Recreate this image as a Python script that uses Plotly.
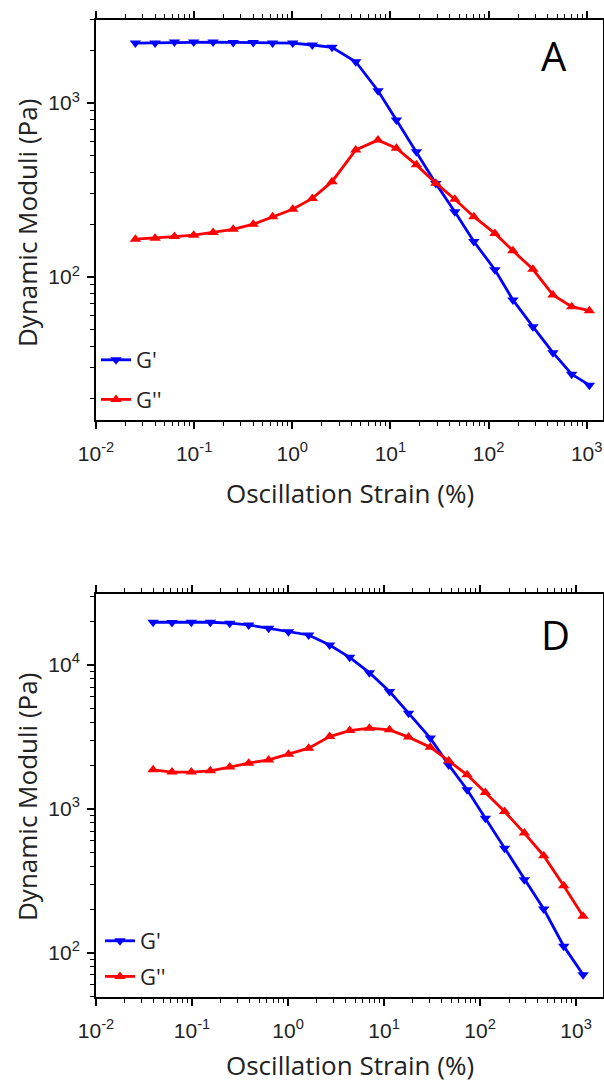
import plotly.graph_objects as go

# ---------------- Data: panel A ----------------
strain_A = [0.0252, 0.040, 0.063, 0.099, 0.156, 0.25, 0.40, 0.63, 1.01, 1.6, 2.54, 4.43,
            7.47, 11.5, 18.4, 29.0, 45.3, 70.8, 116, 177, 283, 453, 703, 1064]
Gp_A = [2210, 2215, 2240, 2240, 2240, 2230, 2225, 2210, 2210, 2154, 2090, 1727,
        1177, 798, 525, 345, 237, 160, 110, 73.8, 51.8, 36.7, 27.6, 23.9]
Gpp_A = [165, 167, 170.6, 174, 180, 188, 201, 222, 245, 283, 353, 537,
         612, 550, 441, 346, 280, 222, 178, 141.6, 110.7, 78.9, 67.5, 64]

# ---------------- Data: panel D ----------------
strain_D = [0.0393, 0.0619, 0.0984, 0.155, 0.247, 0.389, 0.628, 1.01, 1.64, 2.71, 4.38,
            7.03, 11.4, 18.0, 30.3, 47.1, 73.3, 113.5, 180, 289, 460, 743, 1183]
Gp_D = [19800, 19700, 19800, 19800, 19500, 18960, 17990, 17020, 16150, 13770, 11300,
        8840, 6530, 4620, 3100, 2020, 1357, 861, 533, 321, 201, 111, 70.3]
Gpp_D = [1866, 1799, 1799, 1836, 1950, 2077, 2188, 2397, 2641, 3178, 3497,
         3632, 3538, 3150, 2681, 2154, 1722, 1298, 957, 678, 472, 292, 179]

x_tickvals = [0.01, 0.1, 1, 10, 100, 1000]
x_ticktext = ["10<sup>-2</sup>", "10<sup>-1</sup>", "10<sup>0</sup>",
              "10<sup>1</sup>", "10<sup>2</sup>", "10<sup>3</sup>"]
yA_tickvals = [100, 1000]
yA_ticktext = ["10<sup>2</sup>", "10<sup>3</sup>"]
yD_tickvals = [100, 1000, 10000]
yD_ticktext = ["10<sup>2</sup>", "10<sup>3</sup>", "10<sup>4</sup>"]

series_names = ["G'", "G''"]
BLUE = "#0000FF"
RED = "#FF0000"

minor_vals = [m * 10.0 ** e for e in range(-3, 6) for m in range(2, 10)]

W, H = 604, 1085
TICKFONT = dict(family="Liberation Sans, Arial", size=21, color="#222")
TITLEFONT = dict(family="Open Sans, Noto Sans", size=26, color="#222")
LEGFONT = dict(family="Open Sans, Noto Sans", size=22, color="#222")

fig = go.Figure()

def add_panel(x, gp, gpp, xa, ya, legend):
    fig.add_trace(go.Scatter(
        x=x, y=gp, name=series_names[0], mode="lines+markers",
        line=dict(color=BLUE, width=2.8),
        marker=dict(symbol="triangle-down", size=10, color=BLUE),
        xaxis=xa, yaxis=ya, legend=legend, legendgroup=legend + "a"))
    fig.add_trace(go.Scatter(
        x=x, y=gpp, name=series_names[1], mode="lines+markers",
        line=dict(color=RED, width=2.8),
        marker=dict(symbol="triangle-up", size=10, color=RED),
        xaxis=xa, yaxis=ya, legend=legend, legendgroup=legend + "b"))

add_panel(strain_A, Gp_A, Gpp_A, "x", "y", "legend")
add_panel(strain_D, Gp_D, Gpp_D, "x2", "y2", "legend2")

def px_x(p):
    return p / W

def px_y(p):
    return 1 - p / H

xdom = [px_x(96), px_x(603)]
common_x = dict(type="log", tickmode="array", tickvals=x_tickvals, ticktext=x_ticktext,
                ticks="outside", ticklen=7, tickwidth=1.5, tickcolor="black",
                showline=True, linecolor="black", linewidth=2, mirror="ticks",
                showgrid=False, zeroline=False, tickfont=TICKFONT, automargin=False,
                ticklabelstandoff=7,
                minor=dict(tickvals=minor_vals, ticks="outside", ticklen=4,
                           tickwidth=1.2, tickcolor="black", showgrid=False))
common_y = dict(type="log", tickmode="array",
                ticks="outside", ticklen=7, tickwidth=1.5, tickcolor="black",
                showline=True, linecolor="black", linewidth=2, mirror=True,
                showgrid=False, zeroline=False, tickfont=TICKFONT, automargin=False,
                ticklabelstandoff=3,
                minor=dict(tickvals=minor_vals, ticks="outside", ticklen=4,
                           tickwidth=1.2, tickcolor="black", showgrid=False))

fig.update_layout(
    width=W, height=H, margin=dict(l=0, r=0, t=0, b=0, autoexpand=False),
    paper_bgcolor="white", plot_bgcolor="white", showlegend=True,
    xaxis=dict(common_x, domain=xdom, range=[-2, 3.166], anchor="y"),
    yaxis=dict(common_y, domain=[px_y(420), px_y(20)], range=[1.178, 3.477],
               tickvals=yA_tickvals, ticktext=yA_ticktext, anchor="x"),
    xaxis2=dict(common_x, domain=xdom, range=[-2, 3.28], anchor="y2"),
    yaxis2=dict(common_y, domain=[px_y(997), px_y(594)], range=[1.692, 4.493],
                tickvals=yD_tickvals, ticktext=yD_ticktext, anchor="x2"),
    legend=dict(x=px_x(96), y=px_y(339), xanchor="left", yanchor="top",
                bgcolor="rgba(0,0,0,0)", traceorder="grouped",
                tracegroupgap=8, font=LEGFONT),
    legend2=dict(x=px_x(100), y=px_y(920), xanchor="left", yanchor="top",
                 bgcolor="rgba(0,0,0,0)", traceorder="grouped",
                 tracegroupgap=4, font=LEGFONT),
)

annos = [
    dict(text="Oscillation Strain (%)", x=px_x(350), y=px_y(493)),
    dict(text="Oscillation Strain (%)", x=px_x(350), y=px_y(1065)),
    dict(text="Dynamic Moduli (Pa)", x=px_x(27), y=px_y(223), textangle=-90),
    dict(text="Dynamic Moduli (Pa)", x=px_x(27), y=px_y(797), textangle=-90),
]
for a in annos:
    fig.add_annotation(xref="paper", yref="paper", showarrow=False,
                       xanchor="center", yanchor="middle", font=TITLEFONT, **a)
fig.add_annotation(text="A", xref="paper", yref="paper", x=px_x(554), y=px_y(55),
                   xanchor="center", yanchor="middle",
                   showarrow=False, font=dict(family="Open Sans, Noto Sans", size=40, color="black"))
fig.add_annotation(text="D", xref="paper", yref="paper", x=px_x(555), y=px_y(634),
                   xanchor="center", yanchor="middle",
                   showarrow=False, font=dict(family="Open Sans, Noto Sans", size=40, color="black"))

fig.write_html("out.html")
